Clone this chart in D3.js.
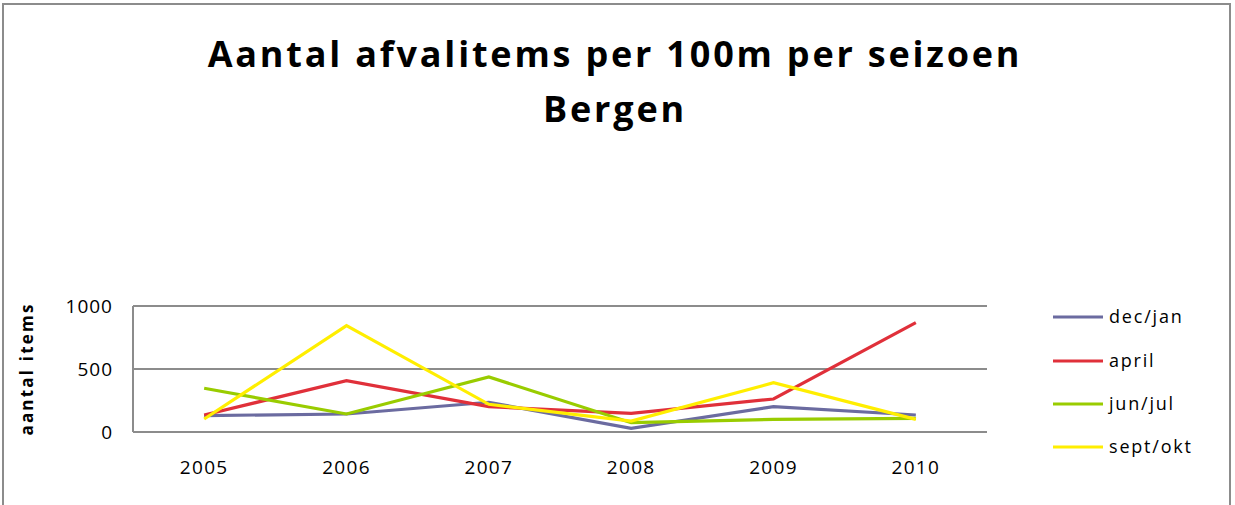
<!DOCTYPE html>
<html>
<head>
<meta charset="utf-8">
<script src="https://cdn.jsdelivr.net/npm/d3@7"></script>
<style>
	body { margin: 0; background: #fff; }
	text { font-family: "Open Sans", sans-serif; fill: #000; }
</style>
</head>
<body>
<svg id="chart" width="1235" height="505"></svg>
<script>
const years = ["2005", "2006", "2007", "2008", "2009", "2010"];
const decJan = [130, 143, 236, 29, 201, 135];
const april = [135, 407, 201, 148, 262, 868];
const junJul = [347, 143, 437, 74, 100, 108];
const septOkt = [103, 844, 220, 87, 391, 100];
const yTicks = [0, 500, 1000];

const series = [
	{ name: "dec/jan", values: decJan, color: "#6b6ba0" },
	{ name: "april", values: april, color: "#e0303a" },
	{ name: "jun/jul", values: junJul, color: "#99cc00" },
	{ name: "sept/okt", values: septOkt, color: "#ffee00" }
];

const svg = d3.select("#chart");
const plot = { left: 133, right: 987, top: 306, bottom: 432 };

// outer frame
svg.append("rect")
	.attr("x", 3).attr("y", 4)
	.attr("width", 1227).attr("height", 520)
	.attr("fill", "none")
	.attr("stroke", "#8c8c8c")
	.attr("stroke-width", 2);

// title
const title = svg.append("text")
	.attr("text-anchor", "middle")
	.style("font-weight", "bold")
	.style("font-size", "36px")
	.style("letter-spacing", "2.8px");
title.append("tspan").attr("x", 615).attr("y", 67).text("Aantal afvalitems per 100m per seizoen");
title.append("tspan").attr("x", 615).attr("y", 122).text("Bergen");

const x = d3.scalePoint()
	.domain(years)
	.range([plot.left, plot.right])
	.padding(0.5);

const y = d3.scaleLinear()
	.domain([0, 1000])
	.range([plot.bottom, plot.top]);

// gridlines
svg.append("g")
	.selectAll("line")
	.data(yTicks)
	.join("line")
	.attr("x1", plot.left).attr("x2", plot.right)
	.attr("y1", d => y(d)).attr("y2", d => y(d))
	.attr("stroke", "#8c8c8c")
	.attr("stroke-width", 2);

// y axis line
svg.append("line")
	.attr("x1", plot.left).attr("x2", plot.left)
	.attr("y1", plot.top).attr("y2", plot.bottom)
	.attr("stroke", "#8c8c8c")
	.attr("stroke-width", 2);

// y tick labels
svg.append("g")
	.selectAll("text")
	.data(yTicks)
	.join("text")
	.attr("x", 113)
	.attr("y", d => y(d) + 7)
	.attr("text-anchor", "end")
	.style("font-size", "19px")
	.style("letter-spacing", "1px")
	.text(d => d);

// x tick labels
svg.append("g")
	.selectAll("text")
	.data(years)
	.join("text")
	.attr("x", d => x(d))
	.attr("y", 474)
	.attr("text-anchor", "middle")
	.style("font-size", "19px")
	.style("letter-spacing", "1.3px")
	.text(d => d);

// y axis title
svg.append("text")
	.attr("transform", "translate(33,369) rotate(-90)")
	.attr("text-anchor", "middle")
	.style("font-weight", "bold")
	.style("font-size", "17px")
	.style("letter-spacing", "2.2px")
	.text("aantal items");

// lines
const line = d3.line()
	.x((d, i) => x(years[i]))
	.y(d => y(d));

svg.append("g")
	.selectAll("path")
	.data(series)
	.join("path")
	.attr("d", d => line(d.values))
	.attr("fill", "none")
	.attr("stroke", d => d.color)
	.attr("stroke-width", 3.2)
	.attr("stroke-linejoin", "miter");

// legend
const legendY = [317, 361, 404, 447];
const legend = svg.append("g")
	.selectAll("g")
	.data(series)
	.join("g")
	.attr("transform", (d, i) => `translate(1053,${legendY[i]})`);
legend.append("line")
	.attr("x1", 0).attr("x2", 50)
	.attr("stroke", d => d.color)
	.attr("stroke-width", 3.2);
legend.append("text")
	.attr("x", 56)
	.attr("y", 6)
	.style("font-size", "18px")
	.style("letter-spacing", "1.8px")
	.text(d => d.name);
</script>
</body>
</html>
